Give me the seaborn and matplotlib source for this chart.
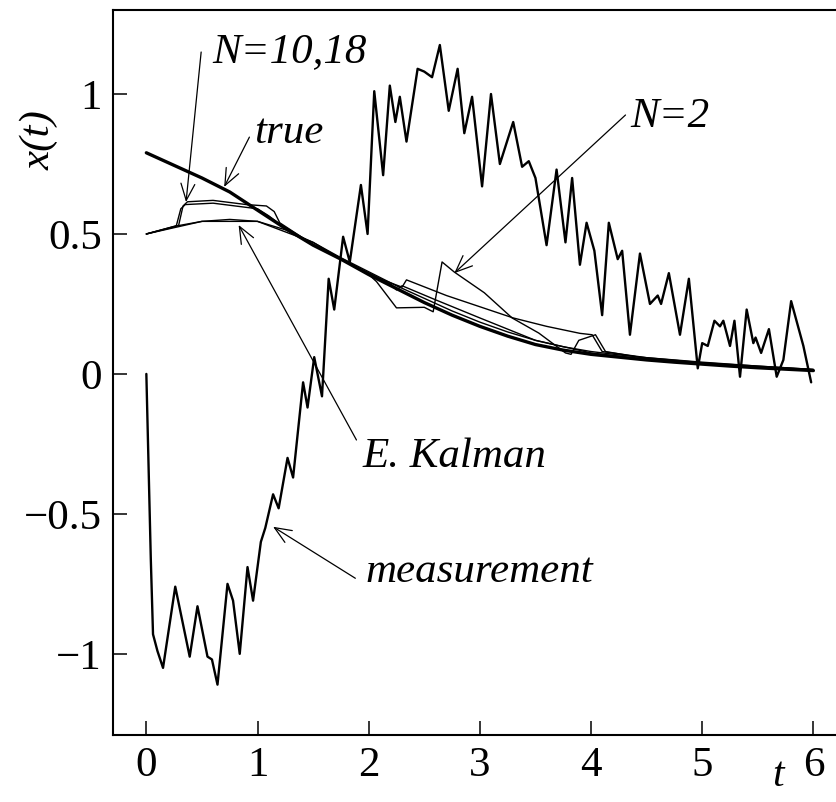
import numpy as np
import pandas as pd
import seaborn as sns
import matplotlib.pyplot as plt

# tiempo común para las curvas suaves
t_suave = [0.0, 0.25, 0.5, 0.75, 1.0, 1.25, 1.5, 1.75, 2.0, 2.25, 2.5, 2.75, 3.0,
           3.25, 3.5, 3.75, 4.0, 4.25, 4.5, 4.75, 5.0, 5.25, 5.5, 5.75, 6.0]

x_true = [0.79, 0.745, 0.70, 0.65, 0.585, 0.52, 0.46, 0.41, 0.355, 0.305, 0.255, 0.21, 0.17,
          0.135, 0.105, 0.085, 0.07, 0.06, 0.05, 0.042, 0.035, 0.028, 0.022, 0.017, 0.012]

x_kalman = [0.50, 0.527, 0.545, 0.552, 0.545, 0.515, 0.47, 0.415, 0.365, 0.315, 0.27, 0.225, 0.185,
            0.15, 0.12, 0.097, 0.08, 0.068, 0.058, 0.05, 0.042, 0.035, 0.028, 0.022, 0.016]

# estimadores con ventana finita
t_n10 = [0.0, 0.25, 0.29, 0.33, 0.37, 0.6, 0.9, 1.08, 1.15, 1.2, 1.5, 1.75, 2.0, 2.1, 2.3,
         2.34, 2.7, 3.0, 3.3, 3.6, 3.9, 4.01, 4.1, 4.5, 5.0, 5.5, 6.0]
x_n10 = [0.50, 0.527, 0.53, 0.60, 0.615, 0.62, 0.605, 0.60, 0.58, 0.54, 0.462, 0.41, 0.36, 0.34, 0.31,
         0.336, 0.28, 0.24, 0.20, 0.17, 0.145, 0.14, 0.08, 0.058, 0.04, 0.028, 0.016]

t_n18 = [0.0, 0.25, 0.27, 0.31, 0.35, 0.6, 0.9, 1.0, 1.1, 1.3, 1.5, 1.75, 2.0, 2.2, 2.25, 2.3,
         2.6, 3.0, 3.5, 4.0, 4.5, 5.0, 5.5, 6.0]
x_n18 = [0.50, 0.525, 0.53, 0.59, 0.605, 0.61, 0.595, 0.59, 0.565, 0.505, 0.46, 0.41, 0.36, 0.32, 0.30, 0.315,
         0.265, 0.20, 0.12, 0.075, 0.052, 0.036, 0.024, 0.014]

t_n2 = [0.0, 0.5, 1.0, 1.5, 1.75, 2.0, 2.07, 2.25, 2.5, 2.58, 2.66, 2.77, 3.04, 3.29, 3.53, 3.77,
        3.82, 3.89, 4.04, 4.13, 4.5, 5.0, 5.5, 6.0]
x_n2 = [0.50, 0.545, 0.545, 0.47, 0.41, 0.355, 0.33, 0.236, 0.238, 0.222, 0.40, 0.364, 0.29, 0.20, 0.146, 0.075,
        0.07, 0.12, 0.14, 0.08, 0.055, 0.038, 0.025, 0.014]

# medición ruidosa
t_med = [0.00, 0.04, 0.06, 0.10, 0.15, 0.26, 0.39, 0.46, 0.55, 0.59, 0.64, 0.73, 0.78, 0.84, 0.91, 0.96,
         1.03, 1.07, 1.14, 1.19, 1.27, 1.32, 1.41, 1.45, 1.51, 1.58, 1.64, 1.69, 1.77, 1.83, 1.93, 1.99,
         2.05, 2.13, 2.19, 2.24, 2.28, 2.34, 2.44, 2.50, 2.57, 2.64, 2.72, 2.80, 2.86, 2.93, 3.02, 3.10,
         3.18, 3.30, 3.38, 3.44, 3.50, 3.60, 3.69, 3.77, 3.83, 3.90, 3.96, 4.03, 4.10, 4.16, 4.24, 4.28,
         4.35, 4.44, 4.53, 4.60, 4.63, 4.70, 4.80, 4.88, 4.96, 5.00, 5.05, 5.11, 5.16, 5.19, 5.25, 5.29,
         5.34, 5.40, 5.46, 5.48, 5.53, 5.60, 5.67, 5.73, 5.80, 5.91, 5.98]
x_med = [0.00, -0.66, -0.93, -0.99, -1.05, -0.76, -1.01, -0.83, -1.01, -1.02, -1.11, -0.75, -0.81, -1.00, -0.69, -0.81,
         -0.60, -0.55, -0.43, -0.48, -0.30, -0.37, -0.03, -0.12, 0.06, -0.08, 0.34, 0.23, 0.49, 0.40, 0.675, 0.50,
         1.01, 0.71, 1.03, 0.90, 0.99, 0.83, 1.09, 1.08, 1.06, 1.175, 0.94, 1.09, 0.86, 0.99, 0.67, 1.00,
         0.75, 0.90, 0.74, 0.76, 0.70, 0.46, 0.73, 0.47, 0.70, 0.39, 0.54, 0.44, 0.21, 0.54, 0.41, 0.44,
         0.14, 0.43, 0.25, 0.28, 0.25, 0.36, 0.14, 0.34, 0.02, 0.11, 0.10, 0.19, 0.17, 0.19, 0.10, 0.19,
         -0.01, 0.23, 0.11, 0.13, 0.075, 0.16, -0.01, 0.05, 0.26, 0.10, -0.03]

x_ticks = [0, 1, 2, 3, 4, 5, 6]
y_ticks = [-1, -0.5, 0, 0.5, 1]
y_tick_labels = ['\u22121', '\u22120.5', '0', '0.5', '1']

sns.set_theme(style='ticks')
plt.rcParams['font.family'] = ['Liberation Serif', 'DejaVu Serif']
plt.rcParams['text.color'] = 'black'
plt.rcParams['axes.labelcolor'] = 'black'

fig = plt.figure(figsize=(8.37, 8.02), dpi=100)
ax = fig.add_axes([0.135, 0.0835, 0.866, 0.904])

sns.lineplot(x=t_med, y=x_med, ax=ax, color='black', lw=1.7, estimator=None, sort=False)
sns.lineplot(x=t_suave, y=x_kalman, ax=ax, color='black', lw=1.0, estimator=None)
sns.lineplot(x=t_n18, y=x_n18, ax=ax, color='black', lw=1.0, estimator=None)
sns.lineplot(x=t_n10, y=x_n10, ax=ax, color='black', lw=1.0, estimator=None)
sns.lineplot(x=t_n2, y=x_n2, ax=ax, color='black', lw=1.0, estimator=None)
sns.lineplot(x=t_suave, y=x_true, ax=ax, color='black', lw=2.4, estimator=None)

ax.set_xlim(-0.30, 6.22)
ax.set_ylim(-1.29, 1.30)
ax.set_xticks(x_ticks)
ax.set_xticklabels([str(v) for v in x_ticks])
ax.set_yticks(y_ticks)
ax.set_yticklabels(y_tick_labels)
ax.tick_params(direction='in', length=10, width=1.1, labelsize=31, colors='black', pad=8)

for s in ['left', 'top', 'bottom']:
    ax.spines[s].set_linewidth(1.5)
    ax.spines[s].set_color('black')
ax.spines['right'].set_visible(False)

ax.set_ylabel('x(t)', fontsize=31, style='italic', rotation=90)
ax.yaxis.set_label_coords(-0.075, 0.82)
ax.set_xlabel('t', fontsize=30, style='italic')
ax.xaxis.set_label_coords(0.917, -0.03)

# rótulos y flechas
flecha = dict(arrowstyle='->,head_length=0.6,head_width=0.25', color='black', lw=0.9,
              shrinkA=0, shrinkB=0, mutation_scale=20)
ax.annotate('', xy=(0.357, 0.614), xytext=(0.493, 1.15), arrowprops=flecha)
ax.annotate('', xy=(0.70, 0.668), xytext=(0.927, 0.846), arrowprops=flecha)
ax.annotate('', xy=(2.77, 0.36), xytext=(4.31, 0.925), arrowprops=flecha)
ax.annotate('', xy=(0.83, 0.532), xytext=(1.89, -0.236), arrowprops=flecha)
ax.annotate('', xy=(1.14, -0.546), xytext=(1.88, -0.73), arrowprops=flecha)

ax.text(0.592, 1.114, 'N=10,18', fontsize=31, style='italic', va='baseline', color='black')
ax.text(0.972, 0.825, 'true', fontsize=31, style='italic', va='baseline', color='black')
ax.text(4.354, 0.882, 'N=2', fontsize=31, style='italic', va='baseline', color='black')
ax.text(1.948, -0.332, 'E. Kalman', fontsize=31, style='italic', va='baseline', color='black')
ax.text(1.967, -0.743, 'measurement', fontsize=31, style='italic', va='baseline', color='black')

plt.savefig('out.png', dpi=100)
